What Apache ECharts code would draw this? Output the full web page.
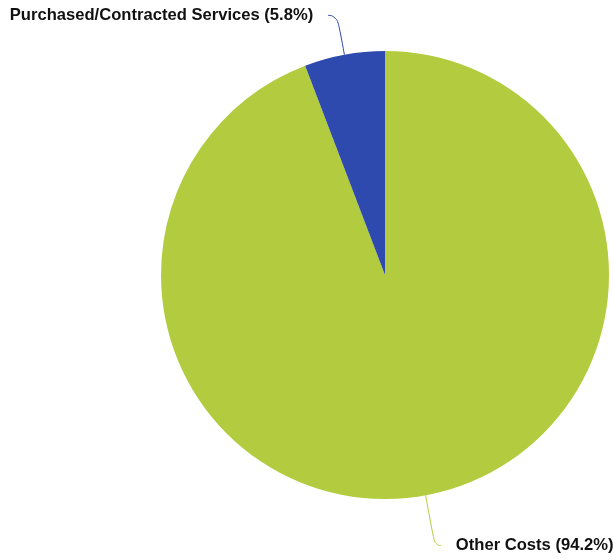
<!DOCTYPE html>
<html><head><meta charset="utf-8">
<script src="https://cdn.jsdelivr.net/npm/echarts@6/dist/echarts.min.js"></script>
<style>html,body{margin:0;padding:0;background:#fff}#c{width:613px;height:559px}</style>
</head><body><div id="c"></div>
<script>
const categories = ["Other Costs", "Purchased/Contracted Services"];
const values = [94.2, 5.8];
const colors = ["#b3cb3e", "#2e4aae"];
const lineLen = [51, 40];
const lineLen2 = [6, 9];
const chart = echarts.init(document.getElementById('c'), null, {renderer: 'canvas'});
chart.setOption({
  animation: false,
  series: [{
    type: 'pie',
    center: [385, 275],
    radius: [0, 224],
    startAngle: 90,
    clockwise: true,
    avoidLabelOverlap: false,
    data: categories.map((c, i) => ({
      name: c, value: values[i], itemStyle: {color: colors[i]},
      labelLine: {length: lineLen[i], length2: lineLen2[i]}
    })),
    label: {
      show: true,
      formatter: p => p.name + ' (' + p.value + '%)',
      fontFamily: 'Liberation Sans, Arial, sans-serif',
      fontWeight: 'bold',
      fontSize: 16.6,
      color: '#111',
      distanceToLabelLine: 15
    },
    labelLine: {show: true, smooth: 0.6, lineStyle: {width: 1}}
  }]
});
</script></body></html>
